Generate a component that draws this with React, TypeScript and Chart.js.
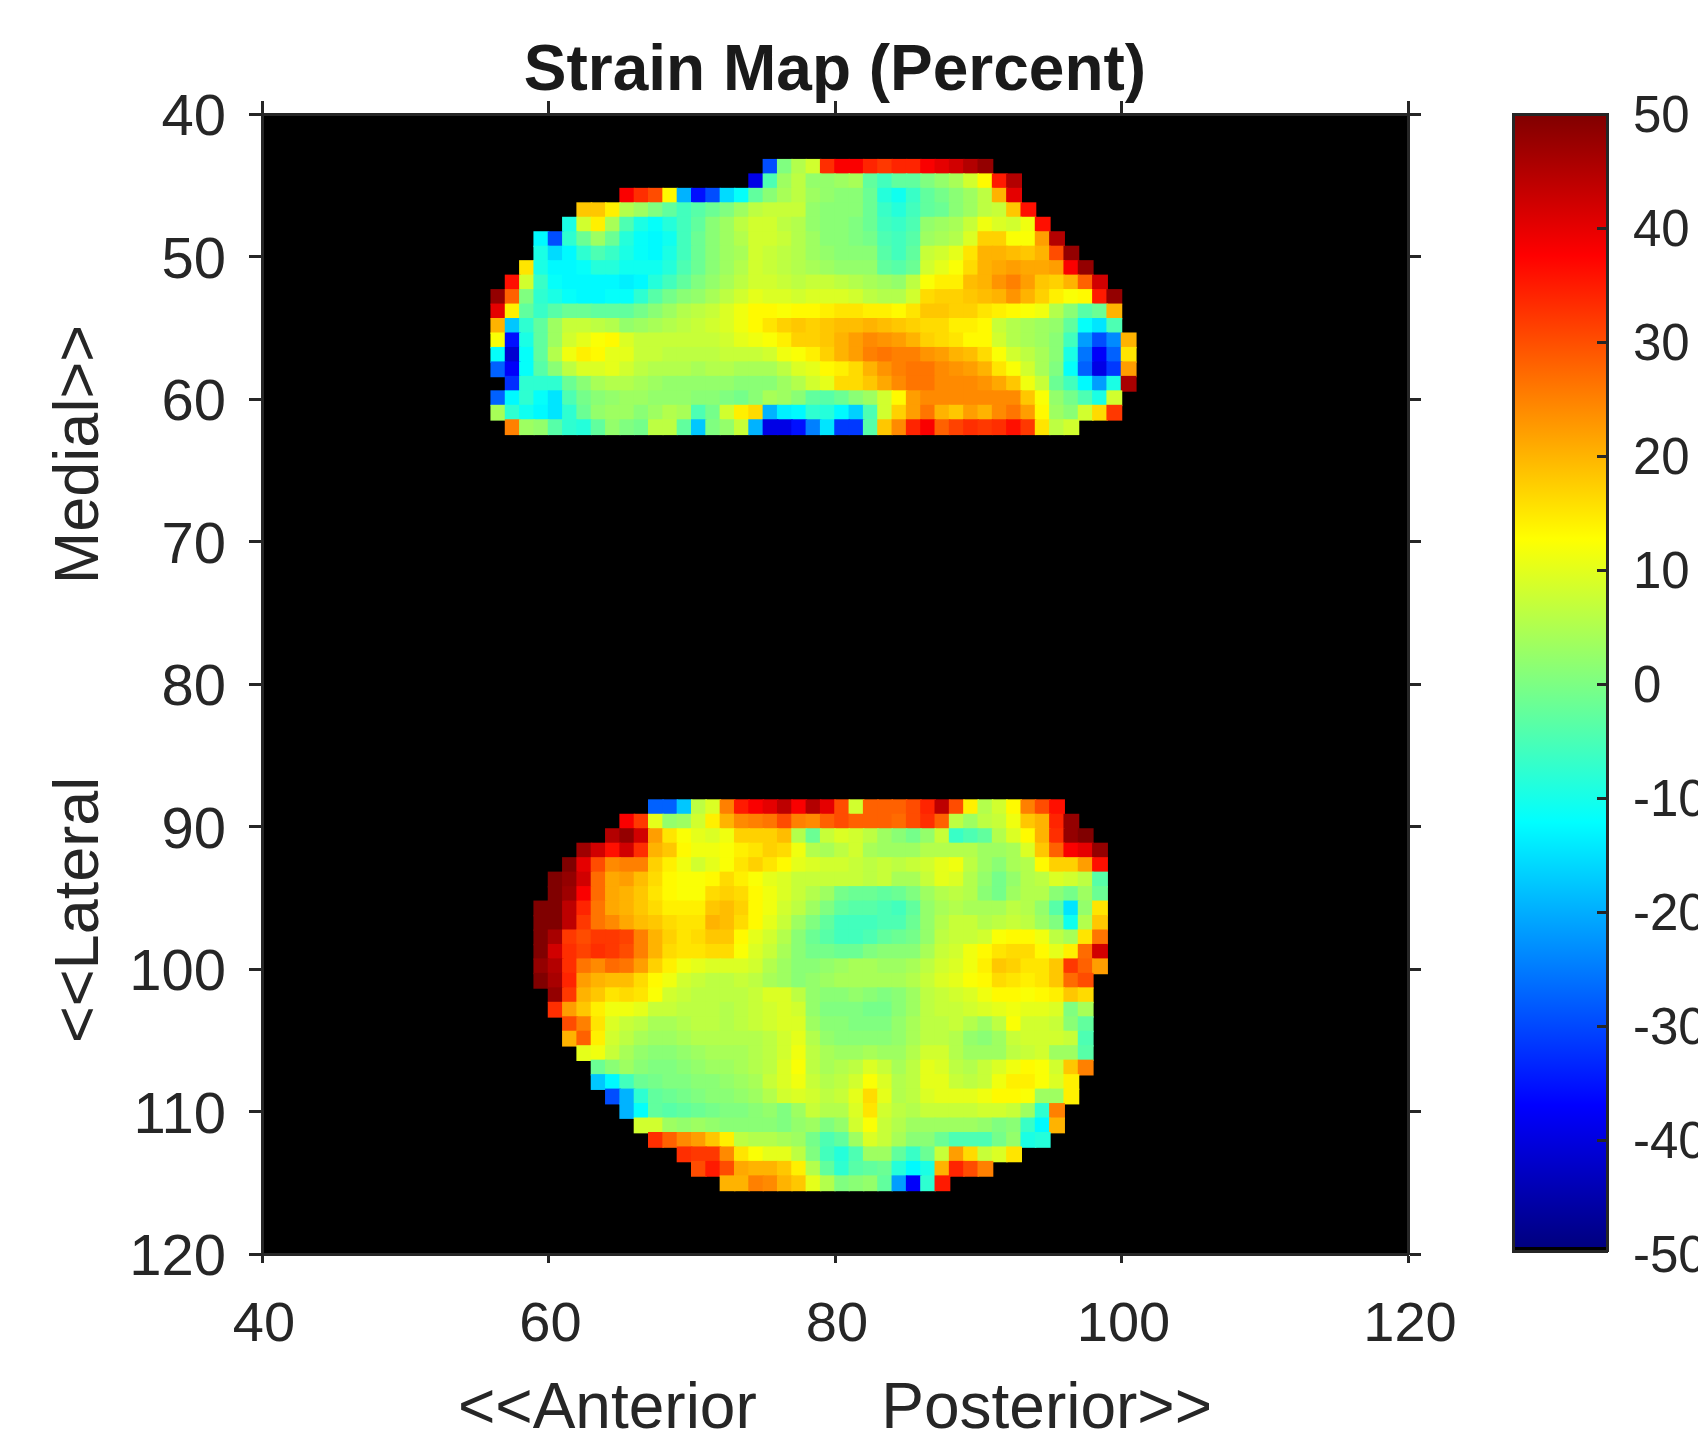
import React, { useEffect, useRef } from "react";
import { Chart, registerables } from "chart.js";

Chart.register(...registerables);

const INK = "#262626";
const FONT = '"Liberation Sans", Arial, sans-serif';

// Strain values in percent, one row per image row.
const topStarts = [75, 74, 65, 62, 61, 59, 59, 58, 57, 56, 56, 56, 56, 56, 56, 56, 56, 56, 57];
const topRows: (number | null)[][] = [
  [-30,0,5,8,33,38,38,34,32,34,34,38,40,42,45,48],
  [-40,-5,3,6,2,2,3,4,-3,-6,-3,-3,0,2,4,8,13,35,45],
  [38,33,30,13,-20,-36,-30,-16,-12,-3,1,4,6,3,2,1,1,-2,-9,-11,-7,-3,-1,1,3,6,20,40],
  [18,18,14,5,3,0,-3,-6,-4,-2,0,3,6,7,7,7,2,1,1,1,-2,-7,-9,-6,-3,-2,1,3,6,7,18,36],
  [-10,8,14,4,-5,-10,-12,-9,-6,-3,1,3,6,8,8,6,5,2,1,1,0,-2,-6,-7,-5,2,3,4,7,11,9,8,11,36],
  [-13,-30,-8,-2,3,-2,-9,-12,-13,-11,-6,-2,1,3,5,8,8,7,5,3,1,1,0,-1,-5,-6,-4,3,4,5,9,17,17,12,12,22,45],
  [-10,-16,-13,-8,-5,-7,-10,-12,-13,-10,-6,-2,1,3,4,8,7,6,5,3,2,1,1,1,-4,-6,-3,7,8,10,15,20,20,19,18,20,30,48],
  [15,-10,-13,-13,-12,-9,-9,-11,-11,-11,-9,-5,-2,1,3,5,8,7,6,5,4,3,2,2,2,-3,-4,-2,8,10,12,16,20,21,22,21,21,22,38,48],
  [36,8,-7,-12,-13,-13,-13,-13,-14,-13,-9,-6,-3,0,2,4,6,8,8,7,6,7,7,6,5,4,3,2,6,12,14,14,19,20,23,25,22,18,17,20,28,42],
  [48,28,0,-8,-10,-12,-13,-13,-12,-12,-8,-4,-1,1,2,4,6,8,10,9,9,8,9,9,9,8,6,5,5,8,16,17,17,18,19,20,23,20,17,14,12,13,35,48],
  [40,14,-3,-7,-4,-2,-2,-3,-3,-3,-1,1,3,5,6,7,9,11,13,13,12,13,13,14,15,15,14,14,13,15,18,18,17,17,15,14,13,12,11,5,1,-4,-2,20],
  [20,-18,-8,-3,3,7,7,6,5,2,3,4,5,6,7,8,9,11,13,15,17,18,17,18,19,19,20,19,18,17,16,16,14,14,13,7,5,4,3,2,-3,-12,-15,-5],
  [12,-36,-10,-3,3,8,10,12,13,9,7,7,7,7,7,7,8,10,11,12,14,17,17,18,20,22,24,23,22,20,17,16,15,13,13,8,5,4,3,1,-6,-22,-30,-24,20],
  [-12,-42,-12,-3,5,11,14,13,10,10,7,7,6,6,6,6,7,7,7,8,11,12,14,17,20,22,25,26,25,25,23,22,20,19,16,12,8,6,4,1,-10,-26,-38,-28,15],
  [-28,-38,-12,-4,1,6,9,9,10,8,6,5,5,5,4,5,5,4,4,4,6,9,10,13,14,16,20,23,25,26,26,24,23,22,20,15,12,8,4,0,-12,-28,-40,-32,22],
  [null,-33,-8,-8,-8,-2,1,4,5,5,4,3,2,2,2,2,2,1,1,1,3,5,8,10,16,16,18,21,24,26,26,24,24,24,23,21,18,11,7,-2,-6,-13,-22,-10,46],
  [-28,-13,-8,-12,-15,-5,-1,1,2,3,3,2,2,2,1,1,0,-1,1,4,3,1,-3,-4,-2,1,3,8,13,22,24,24,24,24,24,24,24,18,12,2,-1,-5,-10,8],
  [4,-8,-11,-13,-15,-8,-2,2,3,3,1,3,5,4,-5,-1,8,14,16,-20,-14,-13,-8,-9,-13,-17,-5,8,17,22,26,20,18,22,20,24,26,22,13,3,1,8,16,32],
  [25,3,2,-4,-8,-9,-3,2,0,-1,6,6,-3,-18,0,2,7,-20,-40,-40,-36,-25,-15,-32,-32,-4,18,24,34,38,28,31,33,32,33,36,32,15,6,8],
];

const bottomStarts = [67, 65, 64, 62, 61, 60, 60, 59, 59, 59, 59, 59, 59, 60, 60, 61, 61, 62, 63, 63, 64, 65, 66, 67, 69, 70, 72];
const bottomRows: (number | null)[][] = [
  [-28,-28,-18,6,9,25,35,38,40,44,38,45,40,30,8,28,28,28,30,34,44,30,14,5,8,13,25,30,36],
  [38,32,10,2,3,8,14,20,24,25,26,30,25,24,28,30,28,28,28,27,30,33,28,6,3,6,7,11,18,20,34,48],
  [45,48,42,22,15,12,10,9,11,17,17,17,19,5,-2,7,9,8,6,3,1,-1,2,7,-7,-5,-3,5,9,13,20,33,48,50],
  [47,42,36,42,33,20,18,13,11,11,12,14,15,17,16,11,5,4,6,8,4,3,3,3,5,5,5,5,3,3,4,9,18,28,38,40,48],
  [50,40,30,24,25,25,17,14,11,8,10,12,15,17,15,13,10,9,8,8,7,6,7,6,7,8,10,11,6,3,1,4,5,13,17,17,22,36],
  [50,48,42,27,21,22,19,16,13,12,12,13,16,14,12,10,9,7,7,7,7,7,6,7,4,4,7,10,9,5,2,-1,2,5,6,9,8,6,-4],
  [50,47,38,27,21,20,18,15,13,12,12,16,17,16,13,11,9,7,5,3,-1,-2,-2,-3,-2,0,3,5,6,5,1,-1,3,5,5,1,-1,3,-2],
  [50,50,44,34,26,21,20,18,16,14,14,14,18,19,17,13,11,8,6,3,0,-3,-4,-4,-5,-6,-3,2,4,5,4,4,4,6,5,2,-4,-15,2,15],
  [50,50,44,32,26,24,21,19,18,16,15,15,20,19,16,13,10,7,3,0,-3,-6,-6,-6,-5,-5,-2,2,5,7,7,5,6,7,6,3,0,-11,5,18],
  [50,46,32,30,32,32,31,25,20,17,15,16,18,18,13,10,8,5,1,-2,-4,-6,-6,-5,-3,-2,-1,2,6,7,7,8,12,13,13,11,6,4,15,26],
  [50,42,33,31,33,32,30,25,20,16,15,15,16,16,12,9,7,4,1,-1,-1,-2,-2,0,1,1,1,4,7,8,11,13,15,16,16,13,10,14,27,42],
  [48,45,33,26,24,27,26,22,17,14,11,10,9,9,9,8,5,3,1,1,2,3,4,4,3,3,4,6,8,9,11,14,18,17,15,15,18,32,28,22],
  [50,46,34,22,20,19,19,16,13,11,8,7,6,6,7,6,4,3,1,2,3,4,4,4,4,4,5,7,9,10,12,13,16,15,14,15,18,27,30],
  [48,32,20,18,15,16,15,12,8,7,6,6,6,6,7,9,9,6,2,1,1,2,1,0,1,3,6,7,8,9,11,13,13,12,13,14,18,16],
  [33,22,18,14,11,11,10,7,7,6,6,6,5,6,7,8,9,8,2,0,0,0,-1,-1,1,3,6,7,7,8,9,10,11,10,10,9,0,4],
  [30,25,15,9,7,6,4,4,5,6,6,5,6,7,8,9,9,3,1,1,0,0,0,2,4,6,6,7,5,3,6,12,8,8,7,1,-3],
  [20,28,14,8,6,4,3,3,4,5,5,5,5,5,6,8,10,5,2,1,1,1,1,2,4,6,6,5,2,1,3,7,8,8,8,7,-5],
  [10,11,7,4,2,1,1,2,3,4,4,4,5,6,8,11,6,4,3,3,4,3,3,5,8,8,5,3,3,3,6,7,8,3,3,-4],
  [-2,1,3,1,0,0,1,2,3,3,4,5,6,9,12,6,4,5,6,9,7,4,6,10,9,6,5,7,9,11,13,12,8,18,25],
  [-18,-13,-6,-2,-1,0,0,1,1,2,3,4,7,9,11,7,5,6,8,12,9,5,6,10,10,7,6,7,11,14,14,12,9,14],
  [-30,-20,-8,-3,-2,-1,0,1,1,2,3,5,8,9,8,6,7,10,16,10,5,6,9,10,10,10,11,13,13,12,3,3,14],
  [-20,-12,-3,-4,-3,-2,-1,0,0,1,2,0,3,7,5,5,9,15,8,6,5,7,7,7,7,8,8,7,3,-8,25],
  [8,8,3,2,3,2,1,1,1,1,0,2,3,0,2,8,12,7,5,3,3,3,3,3,2,0,1,-7,-13,20],
  [33,28,24,22,18,14,6,5,5,4,3,-1,-5,-3,3,9,7,4,1,1,-2,-5,-5,-5,-1,2,-10,-9],
  [33,32,32,24,15,12,10,10,6,0,-6,-9,-5,3,3,-3,-7,-2,7,22,16,7,9,15],
  [30,35,30,21,20,20,18,14,5,-3,-8,-4,-3,-2,-9,-13,-10,20,34,30,25],
  [20,20,25,24,20,18,10,5,0,1,2,-3,-22,-38,-8,35],
];

const topFirstEdge = 43.2;
const bottomFirstEdge = 88.14;
const rowStep = 1.015;

const xTickValues = [40, 60, 80, 100, 120];
const yTickValues = [40, 50, 60, 70, 80, 90, 100, 110, 120];
const barTickValues = [50, 40, 30, 20, 10, 0, -10, -20, -30, -40, -50];

function clamp01(v: number) {
  return Math.max(0, Math.min(1, v));
}
function jet(t: number) {
  const r = clamp01(Math.min(4 * t - 1.5, -4 * t + 4.5));
  const g = clamp01(Math.min(4 * t - 0.5, -4 * t + 3.5));
  const b = clamp01(Math.min(4 * t + 0.5, -4 * t + 2.5));
  return `rgb(${Math.round(r * 255)},${Math.round(g * 255)},${Math.round(b * 255)})`;
}
const strainColor = (v: number) => jet((v + 50) / 100);

function buildCells(rows: (number | null)[][], starts: number[], firstEdge: number) {
  const pts: { x: number; y: number; v: number }[] = [];
  rows.forEach((row, i) => {
    row.forEach((v, j) => {
      if (v === null) return;
      pts.push({ x: starts[i] + j + 0.5, y: firstEdge + (i + 0.5) * rowStep, v });
    });
  });
  return pts;
}

const fixTicks = (values: number[]) => (scale: any) => {
  scale.ticks = values.map((value) => ({ value }));
};

export default function App() {
  const mapRef = useRef<HTMLCanvasElement>(null);
  const barRef = useRef<HTMLCanvasElement>(null);

  useEffect(() => {
    document.body.style.margin = "0";
    document.body.style.background = "#fff";
    const cells = [
      ...buildCells(topRows, topStarts, topFirstEdge),
      ...buildCells(bottomRows, bottomStarts, bottomFirstEdge),
    ];
    const blackPlot = {
      id: "blackPlot",
      beforeDraw(chart: any) {
        const { ctx, chartArea: a } = chart;
        ctx.save();
        ctx.fillStyle = "#000";
        ctx.fillRect(a.left, a.top, a.right - a.left, a.bottom - a.top);
        ctx.restore();
      },
    };
    const lineAxis = { color: INK, width: 3 };
    const map = new Chart(mapRef.current!, {
      type: "scatter",
      data: {
        datasets: [
          {
            data: cells as any,
            pointStyle: "rect",
            pointRadius: 11.2,
            pointBorderWidth: 0,
            borderWidth: 0,
            backgroundColor: cells.map((c) => strainColor(c.v)),
          } as any,
        ],
      },
      plugins: [blackPlot],
      options: {
        animation: false,
        responsive: false,
        events: [],
        layout: { padding: 0 },
        plugins: {
          legend: { display: false },
          tooltip: { enabled: false },
          title: {
            display: true,
            text: "Strain Map (Percent)",
            color: "#1a1a1a",
            font: { family: FONT, size: 64, weight: "bold", lineHeight: 0.75 },
            padding: { top: 48, bottom: 0 },
          },
        },
        scales: {
          x: {
            type: "linear",
            position: "bottom",
            min: 40,
            max: 120,
            afterBuildTicks: fixTicks(xTickValues),
            afterFit: (s: any) => { s.height = 180; },
            border: lineAxis,
            grid: { drawOnChartArea: false, tickLength: 9, tickWidth: 3, tickColor: INK },
            ticks: {
              color: INK,
              font: { family: FONT, size: 56, lineHeight: 1 },
              padding: 35,
              labelOffset: 2,
              maxRotation: 0,
              autoSkip: false,
            },
            title: {
              display: true,
              text: "<<Anterior       Posterior>>",
              color: INK,
              font: { family: FONT, size: 64, lineHeight: 0.75 },
              padding: { top: 0, bottom: 0 },
            },
          },
          xTop: {
            type: "linear",
            position: "top",
            min: 40,
            max: 120,
            afterBuildTicks: fixTicks(xTickValues),
            afterFit: (s: any) => { s.height = 18; },
            border: lineAxis,
            grid: { drawOnChartArea: false, tickLength: 13, tickWidth: 3, tickColor: INK },
            ticks: { display: false },
          },
          y: {
            type: "linear",
            position: "left",
            reverse: true,
            min: 40,
            max: 120,
            afterBuildTicks: fixTicks(yTickValues),
            afterFit: (s: any) => { s.width = 262; },
            border: lineAxis,
            grid: { drawOnChartArea: false, tickLength: 13, tickWidth: 3, tickColor: INK },
            ticks: {
              color: INK,
              font: { family: FONT, size: 58, lineHeight: 1 },
              padding: 23,
              labelOffset: 5,
              autoSkip: false,
            },
            title: {
              display: true,
              text: "<<Lateral           Medial>>",
              color: INK,
              font: { family: FONT, size: 63, lineHeight: 1 },
              padding: { top: 49, bottom: 0 },
            },
          },
          yRight: {
            type: "linear",
            position: "right",
            reverse: true,
            min: 40,
            max: 120,
            afterBuildTicks: fixTicks(yTickValues),
            afterFit: (s: any) => { s.width = 262; },
            border: lineAxis,
            grid: { drawOnChartArea: false, tickLength: 13, tickWidth: 3, tickColor: INK },
            ticks: { display: false },
          },
        },
      } as any,
    });

    const jetGradient = (ctx: any) => {
      const a = ctx.chart.chartArea;
      if (!a) return "#000";
      const g = ctx.chart.ctx.createLinearGradient(0, a.top, 0, a.bottom);
      const end = 1 - 4.2 / (a.bottom - a.top);
      for (let i = 0; i <= 32; i++) g.addColorStop((end * i) / 32, jet(1 - i / 32));
      g.addColorStop(end, "#000");
      g.addColorStop(1, "#000");
      return g;
    };
    const bar = new Chart(barRef.current!, {
      type: "bar",
      data: {
        labels: ["strain"],
        datasets: [
          {
            data: [[-49.7, 50]] as any,
            backgroundColor: jetGradient,
            borderWidth: 0,
            barPercentage: 1,
            categoryPercentage: 1,
          },
        ],
      },
      options: {
        animation: false,
        responsive: false,
        events: [],
        layout: { padding: 0 },
        plugins: { legend: { display: false }, tooltip: { enabled: false } },
        scales: {
          x: {
            type: "category",
            position: "bottom",
            afterFit: (s: any) => { s.height = 183; },
            border: { ...lineAxis, z: 2 },
            grid: { display: true, drawOnChartArea: false, drawTicks: false },
            ticks: { display: false },
          },
          xTop: {
            type: "category",
            position: "top",
            labels: ["strain"],
            afterFit: (s: any) => { s.height = 114; },
            border: { ...lineAxis, z: 2 },
            grid: { display: true, drawOnChartArea: false, drawTicks: false },
            ticks: { display: false },
          },
          yLeft: {
            type: "linear",
            position: "left",
            min: -49.7,
            max: 50,
            afterFit: (s: any) => { s.width = 13; },
            border: { ...lineAxis, z: 2 },
            grid: { display: true, drawOnChartArea: false, drawTicks: false },
            ticks: { display: false },
          },
          y: {
            type: "linear",
            position: "right",
            min: -49.7,
            max: 50,
            afterBuildTicks: fixTicks(barTickValues),
            afterFit: (s: any) => { s.width = 91; },
            border: { ...lineAxis, z: 2 },
            grid: {
              drawOnChartArea: false,
              tickLength: -10,
              tickWidth: 3,
              tickColor: (ctx: any) =>
                ctx.tick && ctx.tick.value < -49.7 ? "transparent" : INK,
              z: 2,
            },
            ticks: {
              color: INK,
              font: { family: FONT, size: 51, lineHeight: 1 },
              padding: 36,
              labelOffset: 4,
              autoSkip: false,
              z: 3,
            },
          },
        },
      } as any,
    });
    return () => {
      map.destroy();
      bar.destroy();
    };
  }, []);

  return (
    <div style={{ position: "relative", width: 1698, height: 1434, overflow: "hidden", background: "#fff" }}>
      <canvas ref={mapRef} width={1670} height={1434} style={{ position: "absolute", left: 0, top: 0 }} />
      <canvas ref={barRef} width={198} height={1434} style={{ position: "absolute", left: 1500, top: 0 }} />
    </div>
  );
}
